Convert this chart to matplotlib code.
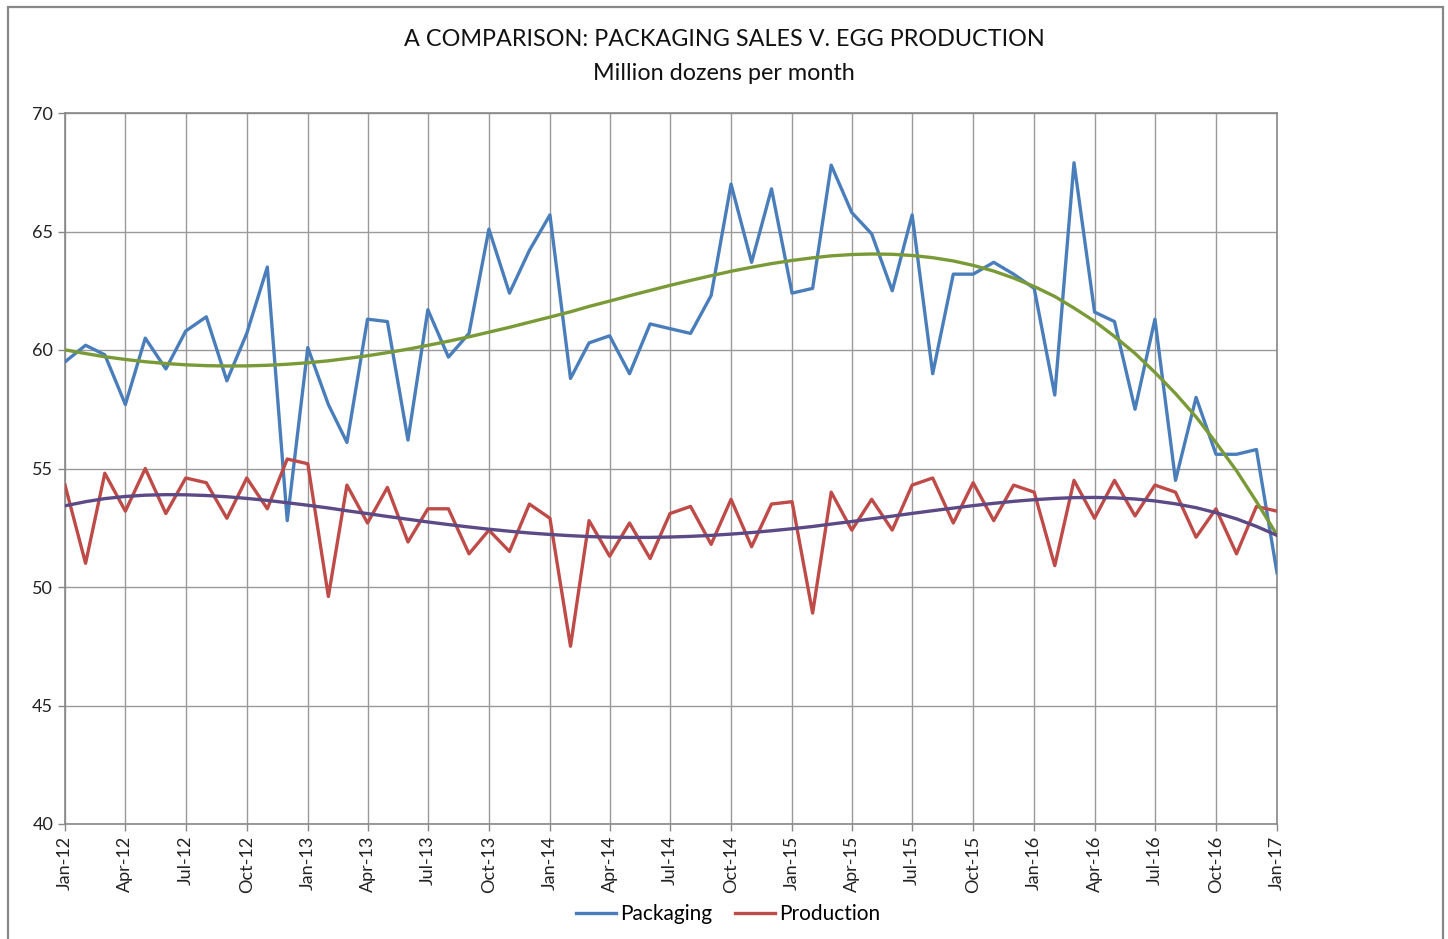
import numpy as np
import pandas as pd
import matplotlib
matplotlib.use("Agg")
import matplotlib.pyplot as plt
import matplotlib.dates as mdates
from matplotlib.patches import Rectangle

plt.rcParams['font.family'] = ['Lato', 'DejaVu Sans']

months = pd.date_range("2012-01-01", "2017-01-01", freq="MS")

packaging = [59.5, 60.2, 59.8, 57.7, 60.5, 59.2, 60.8, 61.4, 58.7, 60.7,
             63.5, 52.8, 60.1, 57.7, 56.1, 61.3, 61.2, 56.2, 61.7, 59.7,
             60.7, 65.1, 62.4, 64.2, 65.7, 58.8, 60.3, 60.6, 59.0, 61.1,
             60.9, 60.7, 62.3, 67.0, 63.7, 66.8, 62.4, 62.6, 67.8, 65.8,
             64.9, 62.5, 65.7, 59.0, 63.2, 63.2, 63.7, 63.2, 62.6, 58.1,
             67.9, 61.6, 61.2, 57.5, 61.3, 54.5, 58.0, 55.6, 55.6, 55.8,
             50.6]

production = [54.3, 51.0, 54.8, 53.2, 55.0, 53.1, 54.6, 54.4, 52.9, 54.6,
              53.3, 55.4, 55.2, 49.6, 54.3, 52.7, 54.2, 51.9, 53.3, 53.3,
              51.4, 52.4, 51.5, 53.5, 52.9, 47.5, 52.8, 51.3, 52.7, 51.2,
              53.1, 53.4, 51.8, 53.7, 51.7, 53.5, 53.6, 48.9, 54.0, 52.4,
              53.7, 52.4, 54.3, 54.6, 52.7, 54.4, 52.8, 54.3, 54.0, 50.9,
              54.5, 52.9, 54.5, 53.0, 54.3, 54.0, 52.1, 53.3, 51.4, 53.4,
              53.2]

# 4th order polynomial trendlines, like Excel
idx = np.arange(len(months))
pack_trend = np.polyval(np.polyfit(idx, packaging, 4), idx)
prod_trend = np.polyval(np.polyfit(idx, production, 4), idx)

fig = plt.figure(figsize=(14.48, 9.39), dpi=100)
ax = fig.add_axes([65 / 1448, 1 - 824 / 939, (1277 - 65) / 1448, (824 - 113) / 939])

# outer chart border
fig.patches.append(Rectangle((8 / 1448, -0.05), (1443 - 8) / 1448, 1.05 - 7 / 939,
                             transform=fig.transFigure, fill=False,
                             edgecolor='#888888', linewidth=1.6))

ax.plot(months, packaging, color='#4a7ebb', linewidth=2.4, label='Packaging', zorder=3)
ax.plot(months, production, color='#be4b48', linewidth=2.4, label='Production', zorder=3)
ax.plot(months, pack_trend, color='#7a9a38', linewidth=2.4, zorder=4)
ax.plot(months, prod_trend, color='#5c4a86', linewidth=2.4, zorder=4)

ax.set_ylim(40, 70)
ax.set_yticks(range(40, 71, 5))
ax.set_xlim(months[0], months[-1])
ax.xaxis.set_major_locator(mdates.MonthLocator(bymonth=[1, 4, 7, 10]))
ax.xaxis.set_major_formatter(mdates.DateFormatter('%b-%y'))
plt.setp(ax.get_xticklabels(), rotation=90)

ax.grid(True, color='#999999', linewidth=1.0)
ax.set_axisbelow(True)
for s in ax.spines.values():
    s.set_color('#888888')
    s.set_linewidth(1.2)
ax.tick_params(axis='both', colors='#888888', labelcolor='#222222',
               labelsize=13, length=5, width=1)

fig.text(0.5, 1 - 40 / 939, 'A COMPARISON: PACKAGING SALES V. EGG PRODUCTION',
         ha='center', va='center', fontsize=16.8, color='#111111')
fig.text(0.5, 1 - 73 / 939, 'Million dozens per month',
         ha='center', va='center', fontsize=16.8, color='#111111')

fig.legend(loc='center', bbox_to_anchor=(728 / 1448, 1 - 914 / 939), ncol=2,
           frameon=False, fontsize=15, handlelength=1.9, handletextpad=0.2,
           columnspacing=1.1)

fig.savefig('out.png', dpi=100, facecolor='white')
